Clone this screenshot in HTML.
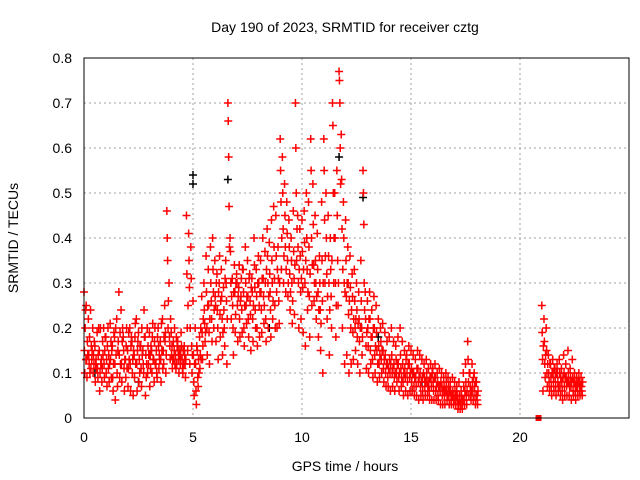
<!DOCTYPE html>
<html><head><meta charset="utf-8"><style>
body{margin:0;background:#fff}
svg{display:block;font-family:"Liberation Sans",sans-serif}
</style></head><body>
<svg id="chart" width="640" height="480">
<text x="345" y="32" font-size="14" text-anchor="middle">Day 190 of 2023, SRMTID for receiver cztg</text>
<text x="345" y="471" font-size="14" text-anchor="middle">GPS time / hours</text>
<text transform="translate(18,238) rotate(-90)" font-size="14" text-anchor="middle">SRMTID / TECUs</text>
<g id="grid"></g><g id="ticks"></g><g id="marks"></g>
<rect x="84" y="58" width="545" height="360" fill="none" stroke="#000"/>
</svg>
<script>
const xTicks=[0,5,10,15,20];
const yTicks=[0,0.1,0.2,0.3,0.4,0.5,0.6,0.7,0.8];
const yTickLabels=["0","0.1","0.2","0.3","0.4","0.5","0.6","0.7","0.8"];
// red series: [hour, values...]
const redSeries=[
[0.0,.28,.15,.1,.2,.24,.13],[0.1,.25,.13,.09,.17,.14],[0.2,.22,.14,.12,.18,.1],[0.3,.24,.11,.16,.13,.15],[0.4,.2,.1,.14,.12,.17],[0.5,.16,.08,.12,.13,.11],[0.6,.19,.11,.09,.14,.2],[0.7,.15,.06,.1,.2,.12],[0.8,.13,.08,.11,.17,.14],[0.9,.2,.12,.09,.15,.18],
[1.0,.18,.1,.13,.07,.16],[1.1,.2,.11,.14,.08,.12],[1.2,.21,.13,.17,.09,.15],[1.3,.16,.09,.06,.12,.19],[1.4,.18,.12,.04,.2,.14],[1.5,.22,.1,.07,.15,.17],[1.6,.28,.14,.09,.19,.12],[1.7,.24,.12,.08,.17,.2],[1.8,.18,.15,.11,.06,.13],[1.9,.13,.09,.16,.2,.11],
[2.0,.15,.07,.11,.19,.13],[2.1,.2,.12,.06,.16,.18],[2.2,.17,.1,.13,.05,.15],[2.3,.14,.09,.18,.21,.12],[2.4,.22,.12,.06,.15,.17],[2.5,.19,.08,.13,.1,.16],[2.6,.16,.11,.07,.2,.14],[2.7,.15,.12,.1,.24,.18],[2.8,.18,.05,.14,.09,.12],[2.9,.2,.1,.16,.12,.14],
[3.0,.19,.07,.14,.11,.16],[3.1,.15,.1,.18,.21,.13],[3.2,.13,.08,.17,.2,.12],[3.3,.12,.15,.1,.09,.18],[3.4,.2,.16,.11,.14,.13],[3.5,.17,.13,.08,.21,.15],[3.6,.22,.11,.15,.12,.18],[3.7,.25,.17,.19,.1,.14],[3.8,.46,.4,.35,.2,.26],[3.9,.3,.18,.16,.13,.22],
[4.0,.19,.14,.16,.11,.13],[4.1,.17,.13,.15,.2,.12],[4.2,.14,.11,.18,.12,.16],[4.3,.17,.15,.13,.1,.14],[4.4,.15,.12,.14,.19,.16],[4.5,.13,.11,.1,.15,.12],[4.6,.16,.14,.12,.09,.13],[4.7,.45,.32,.2,.15,.25],[4.8,.41,.35,.29,.12,.2],[4.9,.38,.31,.16,.1,.14],
[5.0,.26,.14,.08,.05,.12],[5.1,.2,.12,.06,.03,.16],[5.2,.15,.09,.07,.13,.1],[5.3,.18,.11,.14,.2,.13],[5.4,.27,.19,.13,.16,.22],[5.5,.3,.24,.21,.17,.19],[5.6,.36,.28,.2,.14,.25],[5.7,.33,.25,.19,.12,.22],[5.8,.38,.3,.26,.22,.17],[5.9,.4,.33,.28,.2,.24],
[6.0,.35,.27,.25,.17,.3],[6.1,.32,.24,.2,.13,.28],[6.2,.3,.36,.23,.18,.26],[6.3,.33,.27,.22,.14,.19],[6.4,.29,.24,.2,.16,.31],[6.5,.35,.3,.26,.12,.22],[6.6,.7,.66,.58,.47,.38],[6.7,.4,.37,.3,.22,.27],[6.8,.31,.25,.2,.14,.28],[6.9,.34,.28,.19,.23,.3],
[7.0,.32,.3,.25,.17,.27],[7.1,.29,.34,.22,.18,.26],[7.2,.27,.31,.24,.19,.33],[7.3,.33,.28,.2,.16,.25],[7.4,.38,.3,.25,.21,.27],[7.5,.35,.27,.22,.18,.31],[7.6,.32,.26,.23,.15,.29],[7.7,.31,.28,.22,.17,.25],[7.8,.4,.34,.29,.24,.2],[7.9,.33,.27,.2,.16,.3],
[8.0,.36,.3,.25,.18,.28],[8.1,.35,.28,.24,.19,.31],[8.2,.4,.31,.27,.21,.25],[8.3,.37,.3,.22,.17,.33],[8.4,.42,.36,.3,.2,.27],[8.5,.39,.32,.28,.24,.18],[8.6,.44,.35,.3,.22,.26],[8.7,.47,.38,.31,.25,.2],[8.8,.45,.36,.28,.2,.33],[8.9,.38,.31,.26,.21,.3],
[9.0,.62,.55,.48,.33,.4],[9.1,.58,.5,.42,.3,.36],[9.2,.52,.45,.38,.28,.33],[9.3,.48,.41,.35,.27,.3],[9.4,.44,.38,.32,.24,.28],[9.5,.4,.35,.3,.21,.26],[9.6,.46,.37,.31,.23,.34],[9.7,.7,.6,.5,.35,.42],[9.8,.45,.38,.3,.2,.33],[9.9,.42,.36,.28,.22,.31],
[10.0,.44,.37,.29,.19,.33],[10.1,.46,.39,.3,.16,.35],[10.2,.5,.4,.33,.24,.28],[10.3,.48,.38,.27,.18,.32],[10.4,.62,.55,.4,.25,.34],[10.5,.52,.43,.34,.26,.3],[10.6,.45,.35,.3,.22,.27],[10.7,.41,.33,.28,.18,.24],[10.8,.36,.3,.24,.15,.21],[10.9,.48,.35,.26,.1,.3],
[11.0,.62,.55,.44,.3,.36],[11.1,.5,.4,.32,.22,.27],[11.2,.45,.36,.3,.14,.24],[11.3,.4,.33,.27,.2,.35],[11.4,.7,.65,.5,.3,.4],[11.5,.5,.4,.3,.18,.25],[11.6,.55,.45,.35,.25,.3],[11.7,.77,.75,.7,.6,.52],[11.8,.63,.53,.42,.2,.33],[11.9,.48,.4,.3,.12,.28],
[12.0,.44,.35,.27,.14,.3],[12.1,.38,.3,.23,.1,.26],[12.2,.36,.29,.2,.12,.24],[12.3,.32,.27,.19,.13,.22],[12.4,.33,.26,.2,.15,.22],[12.5,.3,.24,.18,.12,.21],[12.6,.28,.22,.17,.1,.2],[12.7,.35,.26,.2,.14,.18],[12.8,.55,.5,.43,.3,.24],[12.9,.28,.22,.16,.11,.19],
[13.0,.26,.2,.16,.1,.22],[13.1,.28,.22,.15,.12,.18],[13.2,.24,.18,.13,.09,.2],[13.3,.27,.2,.14,.1,.16],[13.4,.25,.19,.15,.08,.12],[13.5,.22,.16,.12,.09,.14],[13.6,.2,.17,.13,.1,.15],[13.7,.21,.15,.11,.08,.13],[13.8,.19,.14,.1,.07,.12],[13.9,.17,.12,.09,.07,.11],
[14.0,.18,.13,.1,.06,.12],[14.1,.2,.14,.1,.07,.11],[14.2,.17,.12,.09,.06,.1],[14.3,.16,.13,.1,.08,.12],[14.4,.18,.12,.09,.06,.1],[14.5,.2,.14,.11,.07,.09],[14.6,.17,.12,.08,.05,.1],[14.7,.15,.11,.09,.06,.13],[14.8,.14,.1,.08,.05,.12],[14.9,.16,.12,.09,.06,.1],
[15.0,.15,.11,.08,.06,.1],[15.1,.14,.1,.07,.05,.09],[15.2,.13,.09,.07,.05,.11],[15.3,.15,.11,.08,.04,.09],[15.4,.14,.1,.07,.05,.08],[15.5,.13,.09,.06,.04,.1],[15.6,.12,.09,.07,.05,.08],[15.7,.13,.1,.08,.05,.07],[15.8,.11,.08,.06,.04,.09],[15.9,.12,.09,.07,.04,.1],
[16.0,.11,.08,.06,.04,.09],[16.1,.12,.09,.06,.04,.07],[16.2,.1,.08,.05,.04,.07],[16.3,.11,.07,.06,.03,.08],[16.4,.1,.07,.05,.03,.06],[16.5,.09,.07,.05,.03,.06],[16.6,.1,.08,.06,.04,.05],[16.7,.09,.07,.05,.03,.06],[16.8,.08,.06,.04,.03,.05],[16.9,.09,.06,.05,.03,.04],
[17.0,.08,.06,.04,.03,.05],[17.1,.07,.05,.04,.02,.03],[17.2,.08,.05,.04,.02,.03],[17.3,.06,.05,.03,.02,.04],[17.4,.1,.07,.04,.03,.06],[17.5,.12,.08,.05,.03,.06],[17.6,.17,.13,.08,.05,.1],[17.7,.1,.07,.05,.04,.06],[17.8,.12,.08,.06,.04,.09],[17.9,.1,.07,.05,.03,.08],[18.0,.08,.05,.04,.03,.06],
[21.0,.25,.19,.13,.06,.16],[21.1,.22,.17,.12,.09,.14],[21.2,.2,.15,.1,.07,.12],[21.3,.14,.1,.08,.06,.12],[21.4,.12,.09,.07,.05,.1],[21.5,.13,.1,.08,.06,.11],[21.6,.11,.09,.07,.05,.1],[21.7,.12,.1,.08,.06,.07],[21.8,.13,.1,.07,.05,.09],[21.9,.11,.08,.06,.04,.09],
[22.0,.14,.1,.07,.05,.09],[22.1,.12,.09,.07,.05,.08],[22.2,.15,.1,.08,.05,.07],[22.3,.11,.09,.07,.04,.08],[22.4,.13,.09,.06,.05,.08],[22.5,.1,.08,.06,.04,.07],[22.6,.09,.07,.06,.05,.08],[22.7,.1,.08,.06,.05,.07],[22.8,.09,.07,.06,.05,.08]
];
const blackSeries=[[0.5,.1],[2.5,.08],[5.0,.54],[5.0,.52],[6.6,.53],[8.5,.2],[11.7,.58],[12.8,.49],[13.5,.18],[15.5,.08]];
const squarePoints=[[20.85,0]];
const X=h=>84+h*21.8, Y=v=>418-v*450;
const NS="http://www.w3.org/2000/svg";
const g=document.getElementById('grid'), t=document.getElementById('ticks'), m=document.getElementById('marks');
function mk(tag,at,parent){const e=document.createElementNS(NS,tag);for(const k in at)e.setAttribute(k,at[k]);parent.appendChild(e);return e;}
xTicks.forEach(v=>{
 const l=mk('line',{x1:X(v),x2:X(v),y1:58,y2:418,stroke:'#a0a0a0','stroke-dasharray':'2,3'},g);
 
 
 const s=mk('text',{x:X(v),y:442,'font-size':14,'text-anchor':'middle'},t);s.textContent=v;
 
 
});
yTicks.forEach((v,i)=>{
 const l=mk('line',{x1:84,x2:629,y1:Y(v),y2:Y(v),stroke:'#a0a0a0','stroke-dasharray':'2,3'},g);
 
 
 const s=mk('text',{x:72,y:Y(v)+5,'font-size':14,'text-anchor':'end'},t);s.textContent=yTickLabels[i];
 
 
});
function plus(x,y,c){const p=mk('path',{d:`M${x-4},${y}h8M${x},${y-4}v8`,stroke:c,'stroke-width':1.5,fill:'none'},m);
 
 }
blackSeries.forEach(d=>plus(X(d[0]),Y(d[1]),'#000'));
redSeries.forEach(r=>{for(let i=1;i<r.length;i++)plus(X(r[0]+(i-1)*0.018),Y(r[i]),'#f00');});
squarePoints.forEach(d=>{const q=mk('rect',{x:X(d[0])-3,y:Y(d[1])-3,width:6,height:6,fill:'#f00'},m);
 
 });
</script>
</body></html>
